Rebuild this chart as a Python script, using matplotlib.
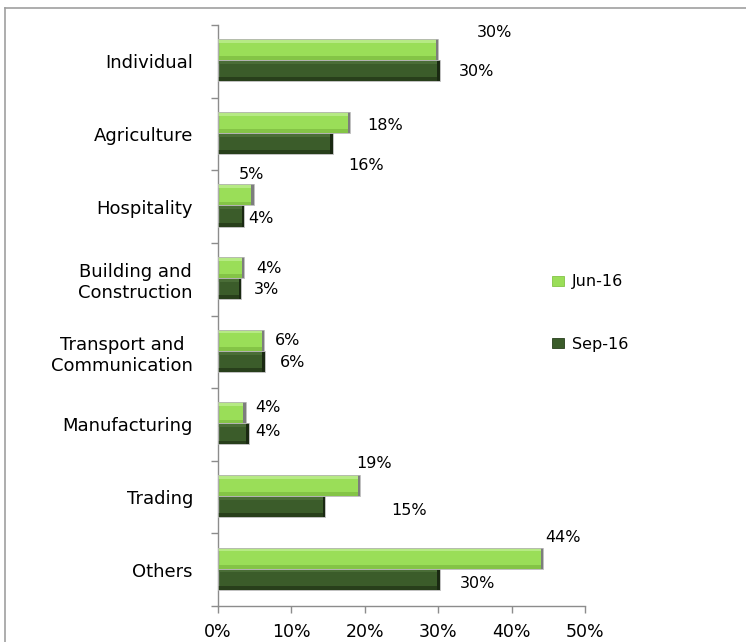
import matplotlib
matplotlib.use("Agg")
import matplotlib.pyplot as plt
from matplotlib.lines import Line2D
from matplotlib.patches import Patch
from matplotlib.ticker import FixedLocator, PercentFormatter

plt.rcParams['font.family'] = ['DejaVu Sans']

# Loan book share by sector
categories = ["Individual", "Agriculture", "Hospitality", "Building and\nConstruction",
              "Transport and\nCommunication", "Manufacturing", "Trading", "Others"]
series_names = ["Jun-16", "Sep-16"]
jun16 = [30.0, 18.0, 4.9, 3.6, 6.3, 3.8, 19.4, 44.3]
sep16 = [30.2, 15.6, 3.6, 3.2, 6.4, 4.2, 14.6, 30.2]
x_ticks = [0, 10, 20, 30, 40, 50]

# label offsets from the bar end, in pixels (dx right, dy down)
jun_offsets = [(56, -17), (35, 3), (-3, -20), (25, 1), (23, 0), (22, -5), (14, -22), (20, -21)]
sep_offsets = [(37, 1), (34, 22), (17, 2), (25, 1), (28, 1), (19, -2), (84, 4), (38, 4)]

# colours: (main, top highlight, bottom shade, end cap)
jun_col = ("#9ade58", "#b6ea84", "#84c446", "#7d7d7d")
sep_col = ("#3b5c2a", "#4a6d37", "#283f1b", "#1a2912")

fig = plt.figure(figsize=(7.46, 6.42), dpi=100)
ax = fig.add_axes([218 / 746, 36 / 642, 367 / 746, 581 / 642])

ypos = list(range(len(categories)))
bar_h = 0.29
off_jun, off_sep = -0.16, 0.13


def bevel_bars(centres, values, col, label):
    main, top, bottom, cap = col
    ax.barh(centres, values, height=bar_h, color=main, edgecolor="none", label=label, zorder=2)
    # top highlight and bottom shade strips
    ax.barh([c - bar_h * 0.41 for c in centres], values, height=bar_h * 0.18,
            color=top, edgecolor="none", zorder=3)
    ax.barh([c + bar_h * 0.41 for c in centres], values, height=bar_h * 0.18,
            color=bottom, edgecolor="none", zorder=3)
    # darker end cap at the bar tip
    cap_w = 0.35
    ax.barh(centres, [cap_w] * len(values), left=[v - cap_w for v in values],
            height=bar_h, color=cap, edgecolor="none", zorder=4)
    ax.barh(centres, values, height=bar_h, color="none", edgecolor="#b5b5b5",
            linewidth=0.6, zorder=5)


jun_y = [y + off_jun for y in ypos]
sep_y = [y + off_sep for y in ypos]
bevel_bars(jun_y, jun16, jun_col, series_names[0])
bevel_bars(sep_y, sep16, sep_col, series_names[1])

px2pt = 72 / 100
for yv, v, (dx, dy) in zip(jun_y, jun16, jun_offsets):
    ax.annotate(f"{v:.0f}%", (v, yv), xytext=(dx * px2pt, -dy * px2pt),
                textcoords="offset points", ha="center", va="center", fontsize=11.5)
for yv, v, (dx, dy) in zip(sep_y, sep16, sep_offsets):
    ax.annotate(f"{v:.0f}%", (v, yv), xytext=(dx * px2pt, -dy * px2pt),
                textcoords="offset points", ha="center", va="center", fontsize=11.5)

ax.set_xlim(0, 50)
ax.set_ylim(len(categories) - 0.5, -0.5)
ax.set_xticks(x_ticks)
ax.xaxis.set_major_formatter(PercentFormatter(decimals=0))
ax.set_yticks(ypos)
ax.set_yticklabels(categories, multialignment="center")
ax.yaxis.set_minor_locator(FixedLocator([y - 0.5 for y in range(len(categories) + 1)]))

ax.tick_params(axis="y", which="major", length=0, pad=18, labelsize=13)
ax.tick_params(axis="y", which="minor", length=5, color="#8c8c8c", width=1)
ax.tick_params(axis="x", which="major", length=5, color="#8c8c8c", width=1,
               pad=7, labelsize=12.5)
for side in ("top", "right"):
    ax.spines[side].set_visible(False)
for side in ("left", "bottom"):
    ax.spines[side].set_color("#8c8c8c")
    ax.spines[side].set_linewidth(1)

handles = [Patch(facecolor=jun_col[0], edgecolor=jun_col[2], linewidth=0.6),
           Patch(facecolor=sep_col[0], edgecolor=sep_col[2], linewidth=0.6)]
fig.legend(handles, series_names, loc="upper left", bbox_to_anchor=(546 / 746, 1 - 268 / 642),
           frameon=False, fontsize=11.5, handlelength=0.75, handleheight=0.6,
           handletextpad=0.5, labelspacing=2.95, borderaxespad=0)

# outer frame edges
fig.add_artist(Line2D([5 / 746, 5 / 746], [0, 1 - 8 / 642], transform=fig.transFigure,
                      color="#a0a0a0", linewidth=1.2))
fig.add_artist(Line2D([5 / 746, 1], [1 - 8 / 642, 1 - 8 / 642], transform=fig.transFigure,
                      color="#a0a0a0", linewidth=1.2))

fig.savefig("out.png", dpi=100)
